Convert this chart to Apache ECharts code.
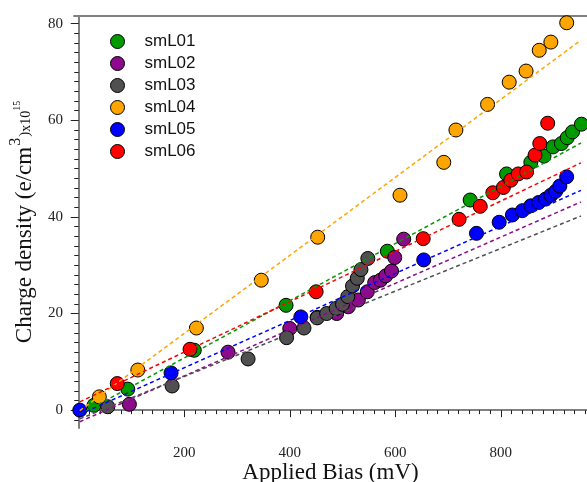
<!DOCTYPE html>
<html>
<head>
<meta charset="utf-8">
<script src="https://cdn.jsdelivr.net/npm/echarts@6/dist/echarts.min.js"></script>
<style>
html,body{margin:0;padding:0;background:#fff;}
#chart{width:587px;height:482px;}
</style>
</head>
<body>
<div id="chart"></div>
<script>
// ---- data ----
const seriesNames = ['smL01', 'smL02', 'smL03', 'smL04', 'smL05', 'smL06'];
const seriesColors = ['#009a00', '#8c0a8c', '#505050', '#ffa500', '#0000ff', '#ff0000'];

const smL01 = [[29,1.0],[93,4.35],[219,12.4],[393,21.7],[585,32.9],[742,43.5],[811,48.9],[857,51.3],[882,52.6],[899,54.5],[915,55.2],[926,56.4],[936,57.6],[953,59.2]];
const smL02 = [[96,1.2],[283,12.0],[400,16.9],[452,19.2],[489,20.0],[511,21.4],[530,22.8],[547,24.5],[561,26.4],[572,26.9],[582,27.8],[593,28.8],[599,31.6],[616,35.4]];
const smL03 = [[55,0.7],[177,5.0],[321,10.6],[394,15.0],[427,17.0],[452,19.1],[470,20.0],[488,21.05],[500,21.9],[510,23.5],[519,25.7],[528,27.3],[535,29.1],[548,31.4]];
const smL04 = [[39,2.75],[112,8.3],[223,17.0],[346,26.9],[453,35.8],[609,44.5],[692,51.3],[715,58.0],[775,63.3],[816,67.9],[848,70.2],[873,74.5],[895,76.2],[925,80.2]];
const smL05 = [[2,0.0],[175,7.7],[421,19.3],[654,31.1],[754,36.6],[797,38.9],[822,40.4],[841,41.3],[857,42.3],[872,43.0],[885,43.7],[895,44.5],[904,45.3],[912,46.4],[925,48.3]];
const smL06 = [[73,5.5],[211,12.6],[450,24.5],[653,35.5],[721,39.5],[761,42.2],[785,45.0],[805,46.1],[819,47.6],[833,48.9],[849,49.3],[865,52.8],[874,55.2],[889,59.4]];
const seriesData = [smL01, smL02, smL03, smL04, smL05, smL06];

// dashed fit lines: endpoints
const fitX = [2, 952];
const fitYStart = [-0.9, -2.4, -1.8, -0.1, -0.9, 1.7];
const fitYEnd   = [55.3, 43.1, 40.2, 76.6, 45.5, 51.2];

// axis ticks
const xMajorTicks = [0, 200, 400, 600, 800];
const xTickLabels = [200, 400, 600, 800];
const xMinorTicks = [];
for (let v = 20; v <= 960; v += 20) if (v % 200 !== 0) xMinorTicks.push(v);
const yMajorTicks = [0, 20, 40, 60, 80];
const yMinorTicks = [];
for (let v = -2; v <= 80; v += 2) if (v % 20 !== 0) yMinorTicks.push(v);

const X_MIN = -9, X_MAX = 963.5, Y_MIN = -3.7, Y_MAX = 81.6;

const serif = 'Liberation Serif';
const sans = 'Liberation Sans';
const axisGray = '#808080';

const chart = echarts.init(document.getElementById('chart'), null, {renderer: 'canvas'});

const series = [];
seriesNames.forEach((n, i) => {
  series.push({
    name: n, type: 'scatter', data: seriesData[i],
    symbol: 'circle', symbolSize: 14,
    itemStyle: {color: seriesColors[i], borderColor: '#000', borderWidth: 1, opacity: 1},
    emphasis: {disabled: true},
    z: 2
  });
});
seriesNames.forEach((n, i) => {
  series.push({
    name: n + ' fit', type: 'line',
    data: [[fitX[0], fitYStart[i]], [fitX[1], fitYEnd[i]]],
    showSymbol: false, symbol: 'none', silent: true,
    lineStyle: {color: seriesColors[i], width: 1.5, type: [4, 3]},
    z: 3
  });
});

const option = {
  animation: false,
  backgroundColor: '#fff',
  grid: {left: 74, right: 0, top: 16, bottom: 54, containLabel: false, outerBoundsMode: 'none'},
  legend: {
    data: seriesNames,
    orient: 'vertical', left: 105, top: 28,
    itemWidth: 14, itemHeight: 14, itemGap: 5,
    icon: 'circle',
    itemStyle: {borderColor: '#000', borderWidth: 1},
    textStyle: {fontFamily: sans, fontSize: 17, color: '#111', lineHeight: 17, padding: [0, 0, 0, 15]},
    selectedMode: false
  },
  xAxis: [
    {
      type: 'value', min: X_MIN, max: X_MAX, position: 'bottom',
      axisLine: {show: true, lineStyle: {color: axisGray, width: 2}},
      axisTick: {show: true, customValues: xMajorTicks, length: 7, lineStyle: {color: '#222', width: 1}},
      axisLabel: {show: true, customValues: xTickLabels, margin: 18, fontFamily: serif, fontSize: 15, color: '#222'},
      splitLine: {show: false},
      name: 'Applied Bias (mV)', nameLocation: 'middle', nameGap: 33, nameMoveOverlap: false,
      nameTextStyle: {fontFamily: serif, fontSize: 23, color: '#111'}
    },
    {
      type: 'value', min: X_MIN, max: X_MAX, position: 'bottom',
      axisLine: {show: false},
      axisTick: {show: true, customValues: xMinorTicks, length: 4, lineStyle: {color: '#222', width: 1}},
      axisLabel: {show: false},
      splitLine: {show: false}
    },
    {
      type: 'value', min: X_MIN, max: X_MAX, position: 'top',
      axisLine: {show: true, lineStyle: {color: axisGray, width: 2}},
      axisTick: {show: false}, axisLabel: {show: false}, splitLine: {show: false}
    }
  ],
  yAxis: [
    {
      type: 'value', min: Y_MIN, max: Y_MAX, position: 'left',
      axisLine: {show: true, lineStyle: {color: axisGray, width: 2}},
      axisTick: {show: true, customValues: yMajorTicks, length: 8, lineStyle: {color: '#222', width: 1}},
      axisLabel: {show: true, customValues: yMajorTicks, margin: 11, fontFamily: serif, fontSize: 15, color: '#222'},
      splitLine: {show: false},
      name: '{a|Charge density (e/cm}{s|3}{b|)}{c|x10}{t|15}',
      nameLocation: 'middle', nameGap: 38, nameRotate: 90, nameMoveOverlap: false,
      nameTextStyle: {
        fontFamily: serif, fontSize: 23, color: '#111',
        rich: {
          a: {fontFamily: serif, fontSize: 23, color: '#111', lineHeight: 28, verticalAlign: 'bottom'},
          s: {fontFamily: serif, fontSize: 16, color: '#111', verticalAlign: 'top', padding: [0, 1, 0, 1]},
          b: {fontFamily: serif, fontSize: 15, color: '#111', verticalAlign: 'bottom', padding: [0, 0, 3, 0]},
          c: {fontFamily: serif, fontSize: 14, color: '#111', verticalAlign: 'bottom', padding: [0, 0, 3, 0]},
          t: {fontFamily: serif, fontSize: 10, color: '#111', verticalAlign: 'top', padding: [4, 0, 0, 0]}
        }
      }
    },
    {
      type: 'value', min: Y_MIN, max: Y_MAX, position: 'left',
      axisLine: {show: false},
      axisTick: {show: true, customValues: yMinorTicks, length: 4.5, lineStyle: {color: '#222', width: 1}},
      axisLabel: {show: false},
      splitLine: {show: false}
    }
  ],
  series: series
};
chart.setOption(option);
</script>
</body>
</html>
